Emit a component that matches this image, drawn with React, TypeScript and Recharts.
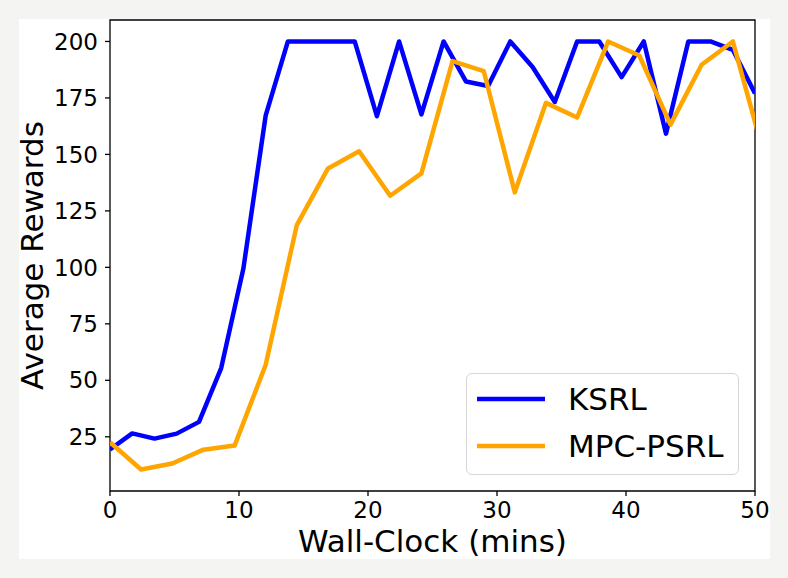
import React from "react";
import { Legend, Line, LineChart, ReferenceArea, XAxis, YAxis } from "recharts";

// wall-clock minutes for each evaluation
const ksrlMins = [0, 1.72, 3.45, 5.17, 6.9, 8.62, 10.34, 12.07, 13.79, 15.52, 17.24, 18.97, 20.69, 22.41, 24.14, 25.86, 27.59, 29.31, 31.03, 32.76, 34.48, 36.21, 37.93, 39.66, 41.38, 43.1, 44.83, 46.55, 48.28, 50];
const ksrlRewards = [19.4, 26.5, 24.2, 26.4, 31.6, 55.4, 99.5, 167.3, 200, 200, 200, 200, 166.9, 200, 167.7, 200, 182.3, 180.3, 200, 188.7, 173.2, 200, 200, 184.2, 200, 159.2, 200, 200, 196.3, 177];

const mpcMins = [0, 2.41, 4.83, 7.24, 9.66, 12.07, 14.48, 16.9, 19.31, 21.72, 24.14, 26.55, 28.97, 31.38, 33.79, 36.21, 38.62, 41.03, 43.45, 45.86, 48.28, 50.69];
const mpcRewards = [22.6, 10.5, 13.2, 19.3, 21.1, 56.9, 118.7, 143.8, 151.4, 131.7, 141.6, 191.3, 186.9, 133.2, 172.8, 166.3, 200, 193.8, 163.2, 189.7, 200, 150];

const xTicks = [0, 10, 20, 30, 40, 50];
const yTicks = [25, 50, 75, 100, 125, 150, 175, 200];

const ksrl = ksrlMins.map((m, i) => ({ mins: m, reward: ksrlRewards[i] }));
const mpc = mpcMins.map((m, i) => ({ mins: m, reward: mpcRewards[i] }));

const FONT = "DejaVu Sans";
const BLUE = "#0000ff";
const ORANGE = "#ffa500";

const legendItems = [
  { name: "KSRL", color: BLUE },
  { name: "MPC-PSRL", color: ORANGE },
];

const renderLegend = () => (
  <div
    style={{
      width: 273,
      height: 102,
      boxSizing: "border-box",
      border: "1.5px solid #d6d6d6",
      borderRadius: 6,
      background: "rgba(255,255,255,0.8)",
      fontFamily: FONT,
      fontSize: 31,
      color: "#000",
      paddingTop: 2,
      textAlign: "left",
    }}
  >
    {legendItems.map((it) => (
      <div key={it.name} style={{ display: "flex", alignItems: "center", height: 46.7 }}>
        <svg width={101} height={10} style={{ flex: "none" }}>
          <line x1={10} x2={78} y1={5} y2={5} stroke={it.color} strokeWidth={4.5} />
        </svg>
        <span style={{ lineHeight: "40px" }}>{it.name}</span>
      </div>
    ))}
  </div>
);

const YTitle = (props: any) => {
  const vb = props.viewBox;
  const x = vb.x + 24;
  const y = vb.y + vb.height / 2;
  return (
    <text x={x} y={y} transform={`rotate(-90 ${x} ${y})`} textAnchor="middle" fontFamily={FONT} fontSize={31} fill="#000">
      Average Rewards
    </text>
  );
};

export default function App() {
  return (
    <div style={{ position: "fixed", left: 0, top: 0, width: 788, height: 578, background: "#f4f4f2" }}>
      <div style={{ position: "absolute", left: 19, top: 19, width: 751, height: 540, background: "#fff" }} />
      <div style={{ position: "absolute", left: 9, top: 19 }}>
        <LineChart width={761} height={540} margin={{ top: 1, right: 15, left: 10, bottom: 0 }}>
          <XAxis
            dataKey="mins"
            type="number"
            domain={[0, 50]}
            ticks={xTicks}
            allowDataOverflow
            height={68}
            axisLine={false}
            tickSize={5}
            tickMargin={6}
            tickLine={{ stroke: "#000", strokeWidth: 1.3 }}
            tick={{ fill: "#000", fontSize: 23, fontFamily: FONT }}
            label={{ value: "Wall-Clock (mins)", position: "insideBottom", offset: 7, fill: "#000", fontSize: 31, fontFamily: FONT }}
          />
          <YAxis
            dataKey="reward"
            type="number"
            domain={[1, 209.5]}
            ticks={yTicks}
            allowDataOverflow
            width={91}
            axisLine={false}
            tickSize={5}
            tickMargin={7}
            tickLine={{ stroke: "#000", strokeWidth: 1.3 }}
            tick={{ fill: "#000", fontSize: 23, fontFamily: FONT }}
            label={{ content: YTitle }}
          />
          <ReferenceArea x1={0} x2={50} y1={1} y2={209.5} fill="none" stroke="#000" strokeWidth={1.3} />
          <Line
            data={ksrl}
            dataKey="reward"
            name="KSRL"
            stroke={BLUE}
            strokeWidth={4.5}
            strokeLinejoin="round"
            dot={false}
            isAnimationActive={false}
          />
          <Line
            data={mpc}
            dataKey="reward"
            name="MPC-PSRL"
            stroke={ORANGE}
            strokeWidth={4.5}
            strokeLinejoin="round"
            dot={false}
            isAnimationActive={false}
          />
          <Legend
            layout="horizontal"
            verticalAlign="middle"
            align="center"
            content={renderLegend}
            wrapperStyle={{ left: 457, top: 354, width: 273, height: 102 }}
          />
        </LineChart>
      </div>
    </div>
  );
}
